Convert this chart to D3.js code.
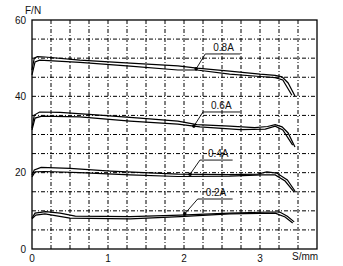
<!DOCTYPE html>
<html lang="en">
<head>
    <meta charset="UTF-8">
    <title>F-S curves</title>
    <script src="https://cdn.jsdelivr.net/npm/d3@7/dist/d3.min.js"></script>
    <style>
        body { margin: 0; background: #fff; }
        text { font-family: "Liberation Sans", Arial, sans-serif; font-size: 10px; fill: #111; }
    </style>
</head>
<body>
    <svg id="chart" width="343" height="266"></svg>
    <script>
        // tick labels
        const xTicks = [0, 1, 2, 3];
        const yTicks = [0, 20, 40, 60];
        const currents = ["0.8A", "0.6A", "0.4A", "0.2A"];

        // each current: upper and lower trace, [S mm, F N]
        const upper08 = [[0, 46.9], [0.03, 50.0], [0.07, 50.4], [0.17, 50.3], [0.63, 49.5], [1.29, 48.7], [1.92, 48.0], [2.17, 47.4], [2.6, 46.6], [3.0, 45.8], [3.2, 45.5], [3.29, 45.1], [3.37, 43.5], [3.46, 40.1]];
        const lower08 = [[0, 45.6], [0.04, 49.0], [0.1, 49.5], [0.63, 48.9], [1.29, 47.9], [1.92, 46.9], [2.17, 46.9], [2.6, 45.8], [3.0, 45.2], [3.2, 44.9], [3.3, 44.3], [3.42, 40.3]];
        const upper06 = [[0, 31.7], [0.03, 35.1], [0.1, 35.9], [0.37, 35.8], [0.89, 35.1], [1.42, 34.3], [1.92, 33.5], [2.17, 32.6], [2.6, 32.2], [2.93, 31.8], [3.1, 32.1], [3.2, 32.6], [3.29, 32.0], [3.37, 30.4], [3.46, 26.7]];
        const lower06 = [[0, 31.2], [0.04, 34.3], [0.13, 34.8], [0.63, 34.6], [1.29, 33.5], [1.92, 32.7], [2.21, 32.0], [2.74, 31.3], [3.07, 31.4], [3.2, 32.2], [3.3, 31.2], [3.43, 27.2]];
        const upper04 = [[0, 19.4], [0.03, 20.7], [0.12, 21.4], [0.5, 21.1], [1.03, 20.4], [1.92, 19.6], [2.6, 19.5], [2.97, 19.6], [3.09, 20.2], [3.22, 19.9], [3.36, 18.1], [3.46, 15.2]];
        const lower04 = [[0, 18.9], [0.04, 20.2], [0.17, 20.3], [0.63, 20.0], [1.29, 19.4], [1.92, 19.0], [2.6, 19.1], [3.03, 19.4], [3.2, 19.4], [3.33, 17.8], [3.45, 14.9]];
        const upper02 = [[0, 8.1], [0.04, 9.4], [0.18, 9.8], [0.37, 9.4], [0.57, 8.6], [1.29, 8.5], [1.95, 8.9], [2.6, 9.4], [3.13, 9.7], [3.26, 9.7], [3.36, 8.6], [3.45, 7.1]];
        const lower02 = [[0, 7.9], [0.05, 8.9], [0.17, 9.2], [0.5, 8.1], [1.29, 7.9], [1.95, 8.5], [2.6, 9.2], [3.2, 9.4], [3.33, 8.4], [3.43, 6.8]];

        // leader lines: tip on curve, elbow, end of the underline
        const leaderTip = [[2.16, 47.2], [2.13, 32.2], [2.08, 19.6], [2.01, 9.2]];
        const leaderElbow = [[2.28, 51.1], [2.25, 35.9], [2.21, 23.3], [2.18, 13.1]];
        const leaderEnd = [2.74, 2.74, 2.64, 2.64];

        const svg = d3.select("#chart");
        const x = d3.scaleLinear().domain([0, 3.75]).range([32, 317]);
        const y = d3.scaleLinear().domain([0, 60]).range([249, 20]);

        // dash-dot grid every 0.25 mm / 5 N
        svg.append("g").selectAll("line")
            .data(d3.range(1, 15).map(i => i * 0.25))
            .join("line")
            .attr("x1", d => x(d)).attr("x2", d => x(d))
            .attr("y1", y(0)).attr("y2", y(60))
            .attr("stroke", "#000").attr("stroke-width", 1)
            .attr("stroke-dasharray", "4,2,1,2");
        svg.append("g").selectAll("line")
            .data(d3.range(1, 12).map(i => i * 5))
            .join("line")
            .attr("x1", x(0)).attr("x2", x(3.75))
            .attr("y1", d => y(d)).attr("y2", d => y(d))
            .attr("stroke", "#000").attr("stroke-width", 1)
            .attr("stroke-dasharray", "4,2,1,2");

        svg.append("rect")
            .attr("x", x(0)).attr("y", y(60))
            .attr("width", x(3.75) - x(0)).attr("height", y(0) - y(60))
            .attr("fill", "none").attr("stroke", "#000").attr("stroke-width", 1.3);

        // tick labels
        svg.append("g").selectAll("text")
            .data(yTicks)
            .join("text")
            .attr("x", 26).attr("y", d => y(d) + 3.5)
            .attr("text-anchor", "end")
            .text(d => d);
        svg.append("g").selectAll("text")
            .data(xTicks)
            .join("text")
            .attr("x", d => x(d)).attr("y", 262)
            .attr("text-anchor", "middle")
            .text(d => d);
        svg.append("text").attr("x", 25).attr("y", 14).text("F/N");
        svg.append("text").attr("x", 292).attr("y", 260).text("S/mm");

        // curves
        const line = d3.line().x(d => x(d[0])).y(d => y(d[1]));
        const traces = [upper08, lower08, upper06, lower06, upper04, lower04, upper02, lower02];
        svg.append("g").selectAll("path")
            .data(traces)
            .join("path")
            .attr("d", line)
            .attr("fill", "none")
            .attr("stroke", "#000")
            .attr("stroke-width", 1.2);

        // labels with leader lines
        const ann = svg.append("g").selectAll("g")
            .data(currents)
            .join("g");
        ann.append("path")
            .attr("d", (d, i) => line([leaderTip[i], leaderElbow[i], [leaderEnd[i], leaderElbow[i][1]]]))
            .attr("fill", "none").attr("stroke", "#000").attr("stroke-width", 0.9);
        ann.append("circle")
            .attr("cx", (d, i) => x(leaderTip[i][0]))
            .attr("cy", (d, i) => y(leaderTip[i][1]))
            .attr("r", 1.8).attr("fill", "#000");
        ann.append("text")
            .attr("x", (d, i) => x(leaderElbow[i][0]) + 8)
            .attr("y", (d, i) => y(leaderElbow[i][1]) - 3)
            .text(d => d);
    </script>
</body>
</html>
